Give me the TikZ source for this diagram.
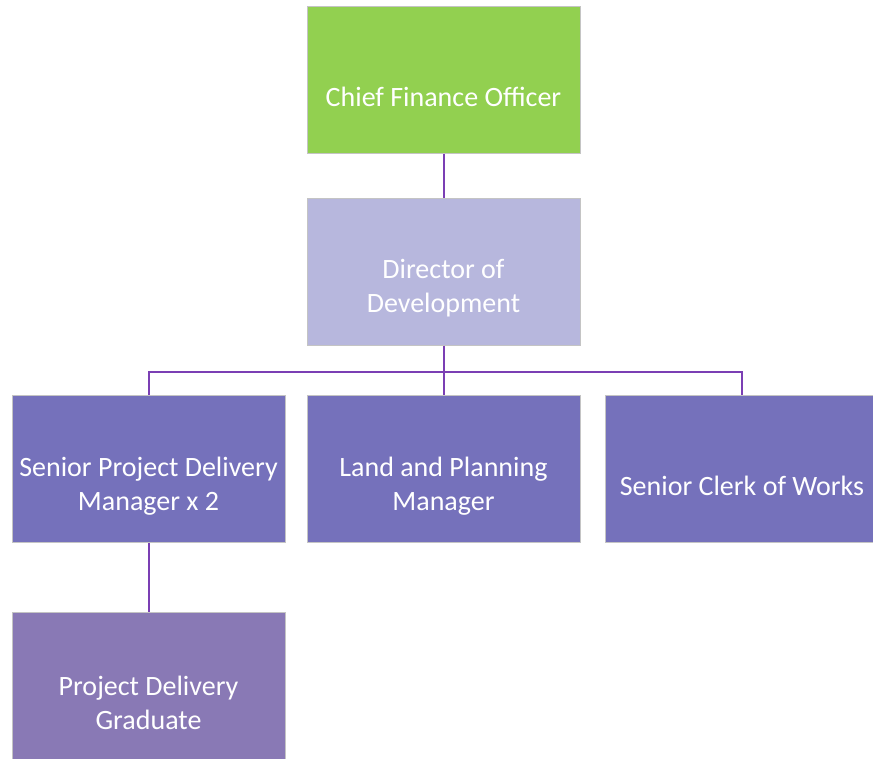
\documentclass[tikz,border=0pt]{standalone}
\usepackage{fontspec}
\setmainfont{Carlito}
\definecolor{cfogreen}{HTML}{92D050}
\definecolor{dirlav}{HTML}{B7B7DD}
\definecolor{midpurple}{HTML}{7571BB}
\definecolor{gradpurple}{HTML}{8979B5}
\definecolor{linepurple}{HTML}{7B3FB4}
\definecolor{edgegray}{HTML}{C4C4C4}
\begin{document}
\begin{tikzpicture}[x=1pt,y=1pt,
  orgbox/.style={draw=edgegray, line width=1pt, minimum width=273pt, minimum height=147pt, inner sep=0pt},
  orgtext/.style={text=white, align=center, font=\fontsize{28}{34}\selectfont, inner sep=0pt},
  conn/.style={draw=linepurple, line width=2pt}]
\useasboundingbox (0,0) rectangle (873,-758);
\clip (0,0) rectangle (873,-758);
\node[orgbox, fill=cfogreen] (cfo) at (443.5,-79.5) {};
\node[orgbox, fill=dirlav] (dir) at (443.5,-271.5) {};
\node[orgbox, fill=midpurple] (spdm) at (148.5,-469) {};
\node[orgbox, fill=midpurple] (land) at (443.5,-469) {};
\node[orgbox, fill=midpurple] (clerk) at (742,-469) {};
\node[orgbox, fill=gradpurple] (pdg) at (148.5,-685.5) {};
\node[orgtext] (tcfo) at ([yshift=-17pt]cfo.center) {Chief Finance Officer};
\node[orgtext] (tdir) at ([yshift=-17pt]dir.center) {Director of\\Development};
\node[orgtext] (tspdm) at ([yshift=-17pt]spdm.center) {Senior Project Delivery\\Manager x 2};
\node[orgtext] (tland) at ([yshift=-17pt]land.center) {Land and Planning\\Manager};
\node[orgtext] (tclerk) at ([yshift=-17pt]clerk.center) {Senior Clerk of Works};
\node[orgtext] (tpdg) at ([yshift=-17pt]pdg.center) {Project Delivery\\Graduate};
\coordinate (bus) at (443.5,-371.5);
\draw[conn] (cfo.south) -- (dir.north);
\draw[conn] (dir.south) -- (bus);
\draw[conn] (bus) -| (spdm.north);
\draw[conn] (bus) -- (land.north);
\draw[conn] (bus) -| (clerk.north);
\draw[conn] (spdm.south) -- (pdg.north);
\end{tikzpicture}
\end{document}
